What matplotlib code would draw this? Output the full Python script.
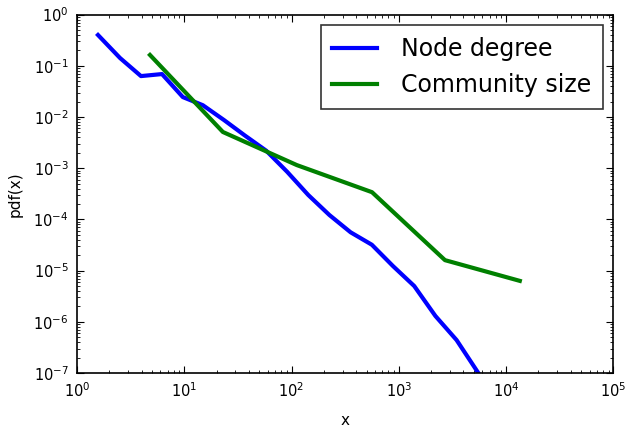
import matplotlib
matplotlib.use("Agg")
import matplotlib.pyplot as plt

# log-binned pdf values
deg_x = [1.57, 2.52, 3.95, 6.2, 9.7, 14.9, 23.5, 37, 58, 91, 143, 225,
         355, 560, 880, 1390, 2190, 3450, 5500]
deg_pdf = [0.40, 0.142, 0.063, 0.069, 0.0245, 0.017, 0.0087, 0.0043,
           0.0022, 0.00085, 0.0003, 0.000122, 5.6e-5, 3.2e-5, 1.23e-5,
           5.0e-6, 1.3e-6, 4.4e-7, 1.0e-7]

com_x = [4.79, 22.9, 112, 562, 2690, 13400]
com_pdf = [0.163, 0.0051, 0.00115, 0.00034, 1.6e-5, 6.3e-6]

plt.rcParams['xtick.direction'] = 'in'
plt.rcParams['ytick.direction'] = 'in'
plt.rcParams['xtick.top'] = True
plt.rcParams['ytick.right'] = True
plt.rcParams['xtick.major.size'] = 5
plt.rcParams['ytick.major.size'] = 5
plt.rcParams['xtick.minor.size'] = 2.5
plt.rcParams['ytick.minor.size'] = 2.5
plt.rcParams['xtick.major.pad'] = 6
plt.rcParams['ytick.major.pad'] = 6

fig = plt.figure(figsize=(6.36, 4.26), dpi=100)
ax = fig.add_axes([0.121, 0.1244, 0.8436, 0.8413])

ax.plot(deg_x, deg_pdf, color='b', lw=3, label='Node degree')
ax.plot(com_x, com_pdf, color='g', lw=3, label='Community size')

ax.set_xscale('log')
ax.set_yscale('log')
ax.set_xlim(1, 1e5)
ax.set_ylim(1e-7, 1)
ax.set_xlabel('x', fontsize=11, labelpad=9)
ax.set_ylabel('pdf(x)', fontsize=11, labelpad=7.5)
ax.tick_params(labelsize=10.5)
for s in ax.spines.values():
    s.set_linewidth(1.2)

leg = ax.legend(loc='upper right', fontsize=17, fancybox=False,
                handlelength=1.9, handletextpad=1.0, labelspacing=0.5,
                borderaxespad=0.45, borderpad=0.5)
leg.get_frame().set_edgecolor('black')
leg.get_frame().set_linewidth(1.2)

fig.savefig('out.png', dpi=100)
